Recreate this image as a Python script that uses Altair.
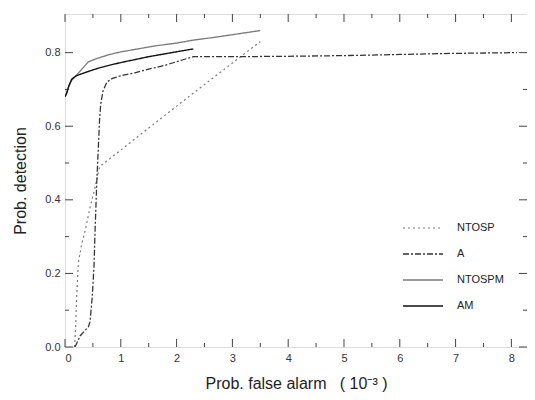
import altair as alt
import pandas as pd

# ---- data ----
ntosp_x = [0.17, 0.19, 0.21, 0.24, 0.30, 0.36, 0.45, 0.54, 0.62, 1.50, 2.30, 3.50]
ntosp_y = [0.0, 0.05, 0.14, 0.23, 0.28, 0.315, 0.38, 0.435, 0.49, 0.595, 0.69, 0.83]

a_x = [0.18, 0.27, 0.42, 0.45, 0.49, 0.52, 0.54, 0.57, 0.60, 0.62, 0.64, 0.68, 0.75,
       0.85, 1.0, 1.25, 1.5, 1.8, 2.1, 2.3, 3.0, 4.0, 5.0, 6.0, 7.0, 8.1]
a_y = [0.0, 0.03, 0.055, 0.07, 0.14, 0.22, 0.32, 0.45, 0.55, 0.62, 0.66, 0.695, 0.72,
       0.73, 0.737, 0.745, 0.755, 0.766, 0.78, 0.789, 0.789, 0.790, 0.792, 0.795, 0.798, 0.80]

ntospm_x = [0.0, 0.03, 0.07, 0.12, 0.21, 0.30, 0.42, 0.57, 0.8, 1.0, 1.3, 1.6, 2.0,
            2.3, 2.7, 3.1, 3.5]
ntospm_y = [0.68, 0.69, 0.71, 0.725, 0.739, 0.755, 0.775, 0.784, 0.795, 0.802, 0.81,
            0.818, 0.826, 0.834, 0.842, 0.851, 0.86]

am_x = [0.0, 0.03, 0.07, 0.12, 0.2, 0.4, 0.6, 0.8, 1.0, 1.25, 1.5, 1.8, 2.1, 2.3]
am_y = [0.68, 0.69, 0.71, 0.728, 0.737, 0.748, 0.758, 0.766, 0.773, 0.781, 0.789,
        0.797, 0.805, 0.81]

series_names = ["NTOSP", "A", "NTOSPM", "AM"]
series_colors = ["#7a7a7a", "#333333", "#7a7a7a", "#111111"]
series_dash = [[2, 3], [6, 2, 2, 2], [1, 0], [1, 0]]
series_width = [1.2, 1.4, 1.0, 2.4]

x_major = [0, 1, 2, 3, 4, 5, 6, 7, 8]
x_minor = [0.5, 1.5, 2.5, 3.5, 4.5, 5.5, 6.5, 7.5]
y_major = [0.0, 0.2, 0.4, 0.6, 0.8]
y_minor = [0.1, 0.3, 0.5, 0.7]

X_DOMAIN = [0, 8.28]
Y_DOMAIN = [0, 0.905]
W, H = 462, 333

rows = []
for name, xs, ys in [("NTOSP", ntosp_x, ntosp_y), ("A", a_x, a_y),
                     ("NTOSPM", ntospm_x, ntospm_y), ("AM", am_x, am_y)]:
    for i, (xv, yv) in enumerate(zip(xs, ys)):
        rows.append({"series": name, "x": xv, "y": yv, "order": i})
df = pd.DataFrame(rows)

xs = alt.Scale(domain=X_DOMAIN, nice=False, zero=False)
ys = alt.Scale(domain=Y_DOMAIN, nice=False, zero=False)

legend = alt.Legend(
    title=None, orient="none", legendX=337, legendY=203, padding=0,
    symbolType="M-1,0H3", symbolSize=400, labelOffset=33, rowPadding=10,
    labelFontSize=11, labelColor="#222222", labelFont="Liberation Sans",
)

lines = alt.Chart(df).mark_line(clip=True).encode(
    x=alt.X("x:Q", scale=xs,
            axis=alt.Axis(title="Prob. false alarm\u00a0\u00a0\u00a0( 10\u207b\u00b3 )",
                          values=x_major, format="d", ticks=False, domain=False,
                          grid=False, labelPadding=5, labelFontSize=11,
                          labelColor="#333333", labelFont="Liberation Sans",
                          titleFont="Liberation Sans", titleFontSize=16,
                          titleFontWeight="normal", titleColor="#222222",
                          titleBaseline="alphabetic", titleY=41)),
    y=alt.Y("y:Q", scale=ys,
            axis=alt.Axis(title="Prob. detection", values=y_major, format=".1f",
                          ticks=False, domain=False, grid=False, labelPadding=5,
                          labelFontSize=11, labelColor="#333333",
                          labelFont="Liberation Sans", titleFont="Liberation Sans",
                          titleFontSize=16, titleFontWeight="normal",
                          titleColor="#222222", titleX=-45, titleBaseline="middle")),
    color=alt.Color("series:N", scale=alt.Scale(domain=series_names, range=series_colors),
                    legend=legend),
    strokeDash=alt.StrokeDash("series:N", scale=alt.Scale(domain=series_names, range=series_dash),
                              legend=legend),
    strokeWidth=alt.StrokeWidth("series:N", scale=alt.Scale(domain=series_names, range=series_width),
                                legend=legend),
    order="order:Q",
)

tick_color = "#444444"
xmaj = pd.DataFrame({"v": x_major})
xmin = pd.DataFrame({"v": x_minor})
ymaj = pd.DataFrame({"v": y_major})
ymin = pd.DataFrame({"v": y_minor})

def xticks(d, length):
    bottom = alt.Chart(d).mark_rule(color=tick_color, strokeWidth=1).encode(
        x=alt.X("v:Q", scale=xs), y=alt.value(H), y2=alt.value(H - length))
    top = alt.Chart(d).mark_rule(color=tick_color, strokeWidth=1).encode(
        x=alt.X("v:Q", scale=xs), y=alt.value(0), y2=alt.value(length))
    return bottom + top

def yticks(d, length):
    left = alt.Chart(d).mark_rule(color=tick_color, strokeWidth=1).encode(
        y=alt.Y("v:Q", scale=ys), x=alt.value(0), x2=alt.value(length))
    right = alt.Chart(d).mark_rule(color=tick_color, strokeWidth=1).encode(
        y=alt.Y("v:Q", scale=ys), x=alt.value(W), x2=alt.value(W - length))
    return left + right

chart = alt.layer(
    xticks(xmaj, 8), xticks(xmin, 4), yticks(ymaj, 8), yticks(ymin, 4), lines
).properties(
    width=W, height=H,
    autosize=alt.AutoSizeParams(type="none"),
    padding={"left": 57, "top": 6, "right": 0, "bottom": 45},
).configure_view(
    stroke="#333333", strokeWidth=1.8
).configure(background="white")

chart.save("out.html", embed_options={"renderer": "svg", "actions": False})
